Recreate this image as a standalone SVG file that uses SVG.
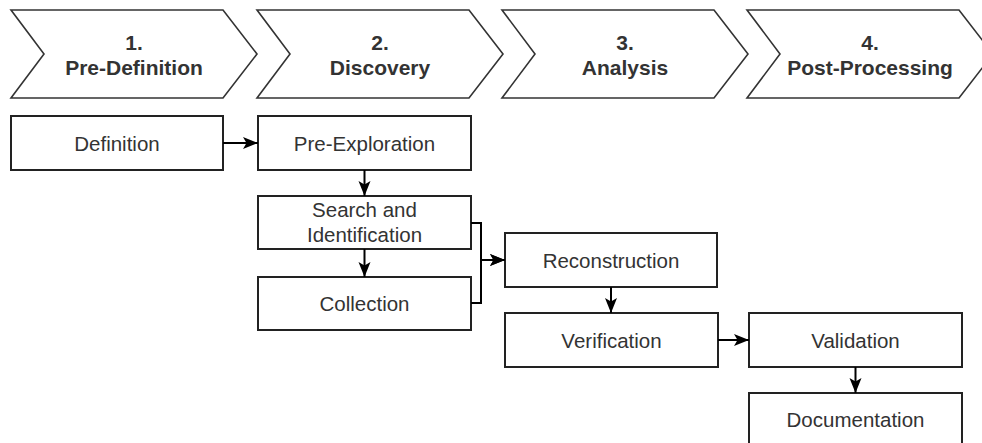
<svg xmlns="http://www.w3.org/2000/svg" width="982" height="443" viewBox="0 0 982 443">
  <style>
    .chev { fill: #ffffff; stroke: #333333; stroke-width: 1.6; stroke-linejoin: miter; }
    .box { fill: #ffffff; stroke: #222222; stroke-width: 2; }
    .ct { font-family: "Liberation Sans", Arial, sans-serif; font-size: 21px; font-weight: bold; fill: #333333; text-anchor: middle; }
    .bt { font-family: "Liberation Sans", Arial, sans-serif; font-size: 20.5px; fill: #333333; text-anchor: middle; }
    .conn { fill: none; stroke: #000000; stroke-width: 2; marker-end: url(#arr); }
  </style>
  <defs>
    <marker id="arr" markerUnits="userSpaceOnUse" markerWidth="15" markerHeight="13" viewBox="0 0 15 13" refX="15" refY="6.5" orient="auto">
      <path d="M0,0.5 L15,6.5 L0,12.5 L3.5,6.5 Z" fill="#000000"/>
    </marker>
  </defs>
  <rect width="982" height="443" fill="#ffffff"/>

  <g id="phase1">
    <polygon class="chev" points="11,10 223,10 257,54 223,98 11,98 44,54"/>
    <text class="ct" x="134" y="50">1.</text>
    <text class="ct" x="134" y="75">Pre-Definition</text>
  </g>
  <g id="phase2">
    <polygon class="chev" points="257,10 469,10 503,54 469,98 257,98 290,54"/>
    <text class="ct" x="380" y="50">2.</text>
    <text class="ct" x="380" y="75">Discovery</text>
  </g>
  <g id="phase3">
    <polygon class="chev" points="502,10 714,10 748,54 714,98 502,98 535,54"/>
    <text class="ct" x="625" y="50">3.</text>
    <text class="ct" x="625" y="75">Analysis</text>
  </g>
  <g id="phase4">
    <polygon class="chev" points="747,10 959,10 993,54 959,98 747,98 780,54"/>
    <text class="ct" x="870" y="50">4.</text>
    <text class="ct" x="870" y="75">Post-Processing</text>
  </g>

  <g id="definition">
    <rect class="box" x="11" y="116" width="212" height="54"/>
    <text class="bt" x="117" y="150.5">Definition</text>
  </g>
  <g id="pre-exploration">
    <rect class="box" x="258" y="116" width="213" height="54"/>
    <text class="bt" x="364.5" y="150.5">Pre-Exploration</text>
  </g>
  <g id="search">
    <rect class="box" x="258" y="196" width="213" height="53"/>
    <text class="bt" x="364.5" y="217">Search and</text>
    <text class="bt" x="364.5" y="242">Identification</text>
  </g>
  <g id="collection">
    <rect class="box" x="258" y="277" width="213" height="53"/>
    <text class="bt" x="364.5" y="310.5">Collection</text>
  </g>
  <g id="reconstruction">
    <rect class="box" x="505" y="233" width="212" height="54"/>
    <text class="bt" x="611" y="267.5">Reconstruction</text>
  </g>
  <g id="verification">
    <rect class="box" x="505" y="313" width="213" height="54"/>
    <text class="bt" x="611.5" y="347.5">Verification</text>
  </g>
  <g id="validation">
    <rect class="box" x="749" y="313" width="213" height="54"/>
    <text class="bt" x="855.5" y="347.5">Validation</text>
  </g>
  <g id="documentation">
    <rect class="box" x="749" y="393" width="213" height="54"/>
    <text class="bt" x="855.5" y="427">Documentation</text>
  </g>

  <g id="connectors">
    <path class="conn" d="M223,143 H258"/>
    <path class="conn" d="M364.5,170 V196"/>
    <path class="conn" d="M364.5,249 V277"/>
    <path class="conn" d="M471,223 H481 V260 H505"/>
    <path class="conn" d="M471,303 H481 V260 H505"/>
    <path class="conn" d="M611,287 V313"/>
    <path class="conn" d="M718,340 H749"/>
    <path class="conn" d="M855.5,367 V393"/>
  </g>
</svg>
